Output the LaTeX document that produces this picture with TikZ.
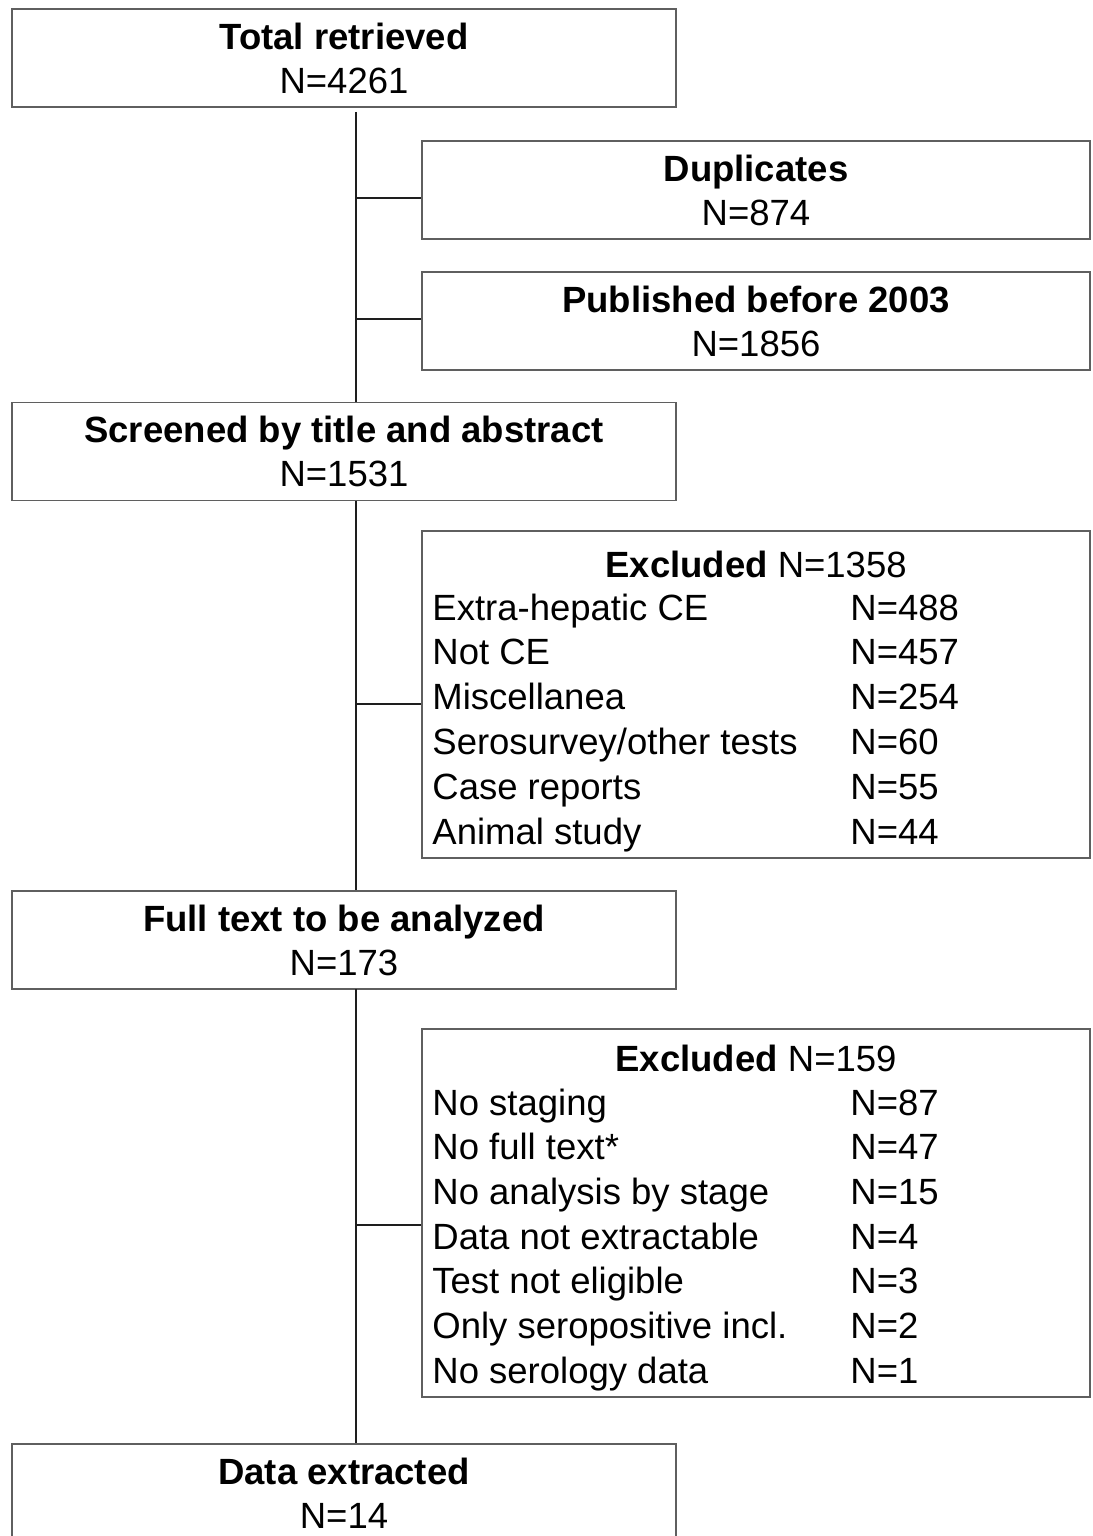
\documentclass[tikz,border=0pt]{standalone}
\usepackage{fontspec}
\setmainfont{Liberation Sans}
\newcommand{\fsz}{\fontsize{18.25pt}{22pt}\selectfont}
\definecolor{boxgray}{RGB}{95,95,95}
\definecolor{linegray}{RGB}{30,30,30}
\begin{document}
\begin{tikzpicture}[x=0.5pt,y=-0.5pt,
  mainbox/.style={draw=boxgray,line width=0.8pt,minimum width=332pt,minimum height=49pt,align=center,inner sep=0pt,font=\fsz},
  sidebox/.style={draw=boxgray,line width=0.8pt,minimum width=334pt,minimum height=49pt,align=center,inner sep=0pt,font=\fsz},
  rowtext/.style={anchor=base west,inner sep=0pt,font=\fsz},
  titletext/.style={inner sep=0pt,font=\fsz},
  conn/.style={draw=linegray,line width=1pt}]
\clip (0,0) rectangle (1092,1536);
\fill[white] (0,0) rectangle (1092,1536);

% main column
\node[mainbox] (A) at (344,58) {\textbf{Total retrieved}\\N=4261};
\node[mainbox] (B) at (344,451.5) {\textbf{Screened by title and abstract}\\N=1531};
\node[mainbox] (C) at (344,940) {\textbf{Full text to be analyzed}\\N=173};
\node[mainbox] (D) at (344,1493) {\textbf{Data extracted}\\N=14};

% side boxes
\node[sidebox] (dup) at (756,190) {\textbf{Duplicates}\\N=874};
\node[sidebox] (pub) at (756,321) {\textbf{Published before 2003}\\N=1856};
\node[sidebox,minimum height=163.5pt] (exa) at (756,694.5) {};
\node[sidebox,minimum height=184pt] (exb) at (756,1213) {};

% excluded box 1 contents
\node[titletext] (exatitle) at (756,564) {\textbf{Excluded} N=1358};
\foreach \t/\n [count=\i from 0] in {{Extra-hepatic CE}/488,{Not CE}/457,{Miscellanea}/254,{Serosurvey/other tests}/60,{Case reports}/55,{Animal study}/44}{
  \node[rowtext] (exal\i) at (432,{620+\i*44.8}) {\t};
  \node[rowtext] (exar\i) at (850,{620+\i*44.8}) {N=\n};
}

% excluded box 2 contents
\node[titletext] (exbtitle) at (756,1058) {\textbf{Excluded} N=159};
\foreach \t/\n [count=\i from 0] in {{No staging}/87,{No full text*}/47,{No analysis by stage}/15,{Data not extractable}/4,{Test not eligible}/3,{Only seropositive incl.}/2,{No serology data}/1}{
  \node[rowtext] (exbl\i) at (432,{1115+\i*44.7}) {\t};
  \node[rowtext] (exbr\i) at (850,{1115+\i*44.7}) {N=\n};
}

% connectors
\coordinate (t1) at (356,112);
\draw[conn] (t1) -- (t1 |- B.north);
\coordinate (j1) at (356,198);
\draw[conn] (j1) -- (j1 -| dup.west);
\coordinate (j2) at (356,319);
\draw[conn] (j2) -- (j2 -| pub.west);

\coordinate (t2) at (356,501);
\draw[conn] (t2) -- (t2 |- C.north);
\coordinate (j3) at (356,704);
\draw[conn] (j3) -- (j3 -| exa.west);

\coordinate (t3) at (356,989);
\draw[conn] (t3) -- (t3 |- D.north);
\coordinate (j4) at (356,1225);
\draw[conn] (j4) -- (j4 -| exb.west);
\end{tikzpicture}
\end{document}
